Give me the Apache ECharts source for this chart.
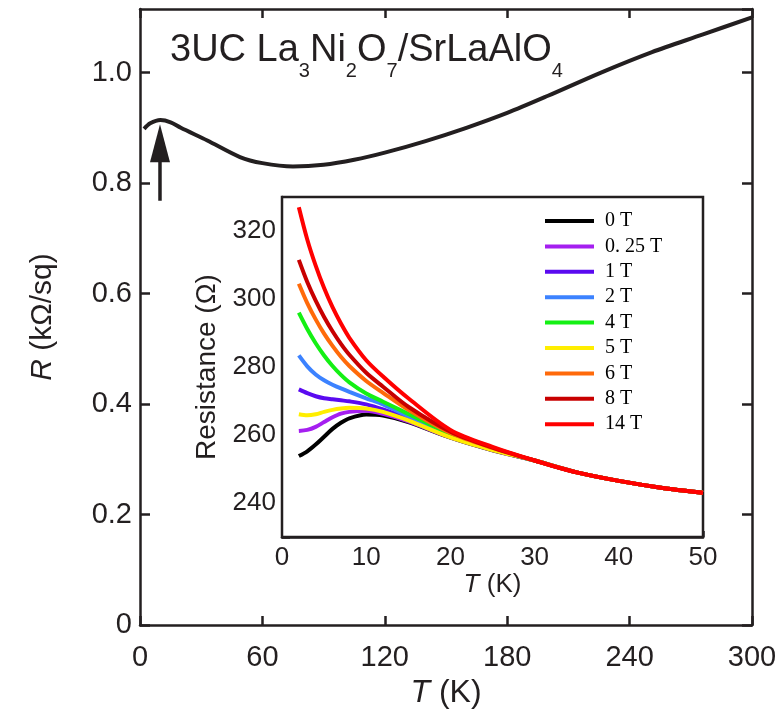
<!DOCTYPE html>
<html>
<head>
<meta charset="utf-8">
<title>La3Ni2O7 R-T</title>
<script src="https://cdn.jsdelivr.net/npm/echarts@6/dist/echarts.min.js"></script>
<style>
  html, body { margin: 0; padding: 0; background: #fff; }
  #main { width: 784px; height: 721px; }
</style>
</head>
<body>
<div id="main"></div>
<script>
// 主图数据 (T / K, R / kΩ/sq)
var mainT = [2, 5, 10, 15, 20, 33, 49, 60, 75, 90, 105, 120, 140, 160, 180, 200, 226, 251, 276, 300];
var mainR = [0.898, 0.908, 0.914, 0.910, 0.900, 0.877, 0.847, 0.836, 0.830, 0.833, 0.842, 0.855, 0.876, 0.900, 0.927, 0.958, 1.000, 1.037, 1.069, 1.100];
var mainXTicks = [0, 60, 120, 180, 240, 300];
var mainYTicks = [0, 0.2, 0.4, 0.6, 0.8, 1.0];

// 箭头 (T, R)
var arrowShaft = [[9.8, 0.768], [9.8, 0.845]];
var arrowHead = [[9.8, 0.872]];

// 插图数据 (T / K, Resistance / Ω)
var insetT = [2, 3, 4, 5, 6, 7, 8, 10, 12, 15, 20, 25, 30, 35, 40, 45, 50];
var tail = [252.5, 249.0, 246.5, 244.5, 243.0];
var fields = ['0 T', '0. 25 T', '1 T', '2 T', '4 T', '5 T', '6 T', '8 T', '14 T'];
var colors = ['#000000', '#a51ff0', '#5a0af0', '#3c82ff', '#14f014', '#ffee00', '#ff6a0a', '#c80000', '#ff0000'];
var r0T   = [253.8, 255.2, 257.2, 259.5, 261.8, 263.6, 264.9, 266.0, 265.7, 263.8, 259.2, 255.5].concat(tail);
var r025T = [261.2, 261.5, 262.4, 263.8, 265.2, 266.3, 266.8, 267.1, 266.2, 264.0, 259.3, 255.6].concat(tail);
var r1T   = [273.4, 272.3, 271.4, 270.8, 270.5, 270.2, 269.9, 269.0, 267.5, 264.8, 259.8, 255.8].concat(tail);
var r2T   = [283.4, 280.2, 277.8, 276.1, 274.8, 273.7, 272.7, 270.8, 269.0, 265.5, 260.0, 256.0].concat(tail);
var r4T   = [296.0, 291.2, 287.0, 283.4, 280.3, 277.7, 275.5, 272.2, 269.8, 266.2, 260.3, 256.0].concat(tail);
var r5T   = [266.1, 265.8, 266.1, 266.8, 267.4, 267.8, 268.0, 267.8, 266.8, 264.3, 259.3, 255.6].concat(tail);
var r6T   = [304.5, 298.8, 294.0, 289.8, 286.2, 283.0, 280.3, 275.9, 272.4, 267.4, 260.6, 256.2].concat(tail);
var r8T   = [311.5, 305.0, 299.5, 294.7, 290.5, 286.8, 283.6, 278.3, 274.2, 268.3, 261.0, 256.3].concat(tail);
var r14T  = [327.0, 317.5, 309.8, 303.2, 297.6, 292.8, 288.6, 282.0, 277.2, 270.8, 261.5, 256.5].concat(tail);
var insetR = [r0T, r025T, r1T, r2T, r4T, r5T, r6T, r8T, r14T];
var insetXTicks = [0, 10, 20, 30, 40, 50];
var insetYTicks = [240, 260, 280, 300, 320];

var ink = '#231f20';
var sans = 'Liberation Sans';

function pairs(xs, ys) {
    return xs.map(function (x, i) { return [x, ys[i]]; });
}

var chart = echarts.init(document.getElementById('main'));

var series = [
    {
        name: 'main',
        type: 'line',
        xAxisIndex: 0,
        yAxisIndex: 0,
        data: pairs(mainT, mainR),
        smooth: 0.3,
        showSymbol: false,
        lineStyle: { color: ink, width: 4 },
        z: 3
    },
    // 箭头挂在上/右坐标轴上 (刻度与主轴相同)
    {
        name: 'arrowShaft',
        type: 'line',
        xAxisIndex: 1,
        yAxisIndex: 1,
        data: arrowShaft,
        showSymbol: false,
        lineStyle: { color: ink, width: 3.5 }
    },
    {
        name: 'arrowHead',
        type: 'scatter',
        xAxisIndex: 1,
        yAxisIndex: 1,
        data: arrowHead,
        symbol: 'triangle',
        symbolSize: [20, 38],
        itemStyle: { color: ink, opacity: 1 }
    }
];

// 插图曲线
fields.forEach(function (f, i) {
    series.push({
        name: f,
        type: 'line',
        xAxisIndex: 2,
        yAxisIndex: 2,
        data: pairs(insetT, insetR[i]),
        smooth: 0.3,
        showSymbol: false,
        color: colors[i],
        lineStyle: { color: colors[i], width: 4 },
        z: 10 + i
    });
});

var option = {
    animation: false,
    backgroundColor: '#fff',
    title: {
        left: 170,
        top: 21,
        padding: 0,
        text: '{m|3UC La}{s|3}{m|Ni}{s|2}{m|O}{s|7}{m|/SrLaAlO}{s|4}',
        textStyle: {
            rich: {
                m: { fontFamily: sans, fontSize: 38, fontWeight: 'normal', color: ink, lineHeight: 60 },
                s: { fontFamily: sans, fontSize: 20, fontWeight: 'normal', color: ink, lineHeight: 20, verticalAlign: 'bottom' }
            }
        }
    },
    legend: {
        data: fields,
        orient: 'vertical',
        left: 545,
        top: 211,
        padding: 0,
        z: 30,
        itemWidth: 49,
        itemHeight: 4,
        itemGap: 5.4,
        icon: 'rect',
        textStyle: {
            fontFamily: 'Liberation Serif',
            fontSize: 20,
            lineHeight: 19,
            color: '#000',
            padding: [0, 0, 0, 6]
        }
    },
    grid: [
        { left: 140, right: 32, top: 9, bottom: 96 },
        { left: 282, right: 81, top: 197, bottom: 184, show: true, backgroundColor: '#fff', borderColor: ink, borderWidth: 2.5, z: 5 }
    ],
    xAxis: [
        {
            gridIndex: 0,
            type: 'value',
            min: mainXTicks[0],
            max: mainXTicks[mainXTicks.length - 1],
            interval: 60,
            name: '{i|T} (K)',
            nameLocation: 'middle',
            nameGap: 52,
            nameTextStyle: {
                fontFamily: sans, fontSize: 32, color: ink,
                rich: { i: { fontFamily: sans, fontSize: 32, fontStyle: 'italic', color: ink } }
            },
            axisLine: { onZero: false, lineStyle: { color: ink, width: 2.5 } },
            axisTick: { inside: true, length: 9, lineStyle: { color: ink, width: 2.5 } },
            axisLabel: { fontFamily: sans, fontSize: 29, color: ink, margin: 18 },
            splitLine: { show: false }
        },
        {
            gridIndex: 0,
            type: 'value',
            position: 'top',
            min: mainXTicks[0],
            max: mainXTicks[mainXTicks.length - 1],
            interval: 60,
            axisLine: { onZero: false, lineStyle: { color: ink, width: 2.5 } },
            axisTick: { inside: true, length: 9, lineStyle: { color: ink, width: 2.5 } },
            axisLabel: { show: false },
            splitLine: { show: false }
        },
        {
            gridIndex: 1,
            type: 'value',
            min: insetXTicks[0],
            max: insetXTicks[insetXTicks.length - 1],
            interval: 10,
            name: '{i|T} (K)',
            nameLocation: 'middle',
            nameGap: 30,
            nameTextStyle: {
                fontFamily: sans, fontSize: 26, color: ink,
                rich: { i: { fontFamily: sans, fontSize: 26, fontStyle: 'italic', color: ink } }
            },
            axisLine: { onZero: false, lineStyle: { color: ink, width: 2.5 } },
            axisTick: { inside: true, length: 6, lineStyle: { color: ink, width: 2.5 } },
            minorTick: { show: true, splitNumber: 2, length: 6, lineStyle: { color: ink, width: 2 } },
            axisLabel: { fontFamily: sans, fontSize: 26, color: ink, margin: 8 },
            splitLine: { show: false }
        }
    ],
    yAxis: [
        {
            gridIndex: 0,
            type: 'value',
            min: mainYTicks[0],
            max: 1.115,
            interval: 0.2,
            name: '{i|R} (kΩ/sq)',
            nameLocation: 'middle',
            nameGap: 82,
            nameTextStyle: {
                fontFamily: sans, fontSize: 30, color: ink,
                rich: { i: { fontFamily: sans, fontSize: 30, fontStyle: 'italic', color: ink } }
            },
            axisLine: { onZero: false, lineStyle: { color: ink, width: 2.5 } },
            axisTick: { inside: true, length: 10, lineStyle: { color: ink, width: 2.5 } },
            axisLabel: {
                fontFamily: sans, fontSize: 29, color: ink, margin: 8, showMaxLabel: false,
                formatter: function (v) {
                    var hit = mainYTicks.filter(function (t) { return Math.abs(t - v) < 1e-6; });
                    if (!hit.length) return '';
                    return v === 0 ? '0' : v.toFixed(1);
                }
            },
            splitLine: { show: false }
        },
        {
            gridIndex: 0,
            type: 'value',
            position: 'right',
            min: mainYTicks[0],
            max: 1.115,
            interval: 0.2,
            axisLine: { onZero: false, lineStyle: { color: ink, width: 2.5 } },
            axisTick: { inside: true, length: 10, lineStyle: { color: ink, width: 2.5 } },
            axisLabel: { show: false },
            splitLine: { show: false }
        },
        {
            gridIndex: 1,
            type: 'value',
            min: 230,
            max: 330,
            interval: 10,
            name: 'Resistance (Ω)',
            nameLocation: 'middle',
            nameGap: 60,
            nameTextStyle: { fontFamily: sans, fontSize: 28, color: ink },
            axisLine: { onZero: false, lineStyle: { color: ink, width: 2.5 } },
            axisTick: { inside: true, length: 8, lineStyle: { color: ink, width: 2.5 } },
            axisLabel: {
                fontFamily: sans, fontSize: 26, color: ink, margin: 6,
                formatter: function (v) {
                    return insetYTicks.indexOf(v) >= 0 ? String(v) : '';
                }
            },
            splitLine: { show: false }
        }
    ],
    series: series
};

chart.setOption(option);
</script>
</body>
</html>
